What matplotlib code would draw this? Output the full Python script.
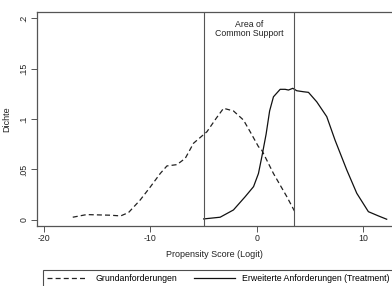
import numpy as np
import matplotlib.pyplot as plt

plt.rcParams['font.family'] = ['Liberation Sans', 'DejaVu Sans']
plt.rcParams['axes.unicode_minus'] = False

# -------------------- Data --------------------
grund_x = [-17.3, -16.0, -13.8, -12.8, -12.06, -10.96, -9.99, -9.08, -8.45, -7.51,
           -6.73, -5.95, -4.69, -3.8, -3.13, -2.2, -1.26, -0.63, 0.15, 0.47, 1.56, 2.82, 3.53]
grund_y = [0.0027, 0.0053, 0.0047, 0.0040, 0.0073, 0.0198, 0.033, 0.046, 0.0535, 0.0548,
           0.061, 0.076, 0.0874, 0.101, 0.1106, 0.108, 0.099, 0.0874, 0.0726, 0.069, 0.046, 0.023, 0.0089]

treat_x = [-5.0, -3.45, -2.2, -1.1, -0.31, 0.15, 0.47, 0.87, 1.2, 1.56, 2.19, 2.66, 2.97,
           3.38, 3.75, 4.38, 4.85, 5.63, 6.57, 7.35, 8.45, 9.39, 10.48, 11.42, 12.2]
treat_y = [0.001, 0.0027, 0.0099, 0.023, 0.033, 0.046, 0.0627, 0.085, 0.108, 0.122, 0.1294, 0.1294, 0.1287,
           0.1304, 0.128, 0.127, 0.1264, 0.117, 0.1023, 0.079, 0.0495, 0.0264, 0.0082, 0.004, 0.0007]

support_bounds = [-5.0, 3.53]
x_ticks = [-20, -10, 0, 10]
y_ticks = [0, 0.05, 0.1, 0.15, 0.2]
y_tick_labels = ['0', '.05', '.1', '.15', '.2']

# -------------------- Figure --------------------
fig = plt.figure(figsize=(3.92, 2.86), dpi=100)
W, H = 392, 286
ax = fig.add_axes([37 / W, 1 - 226 / H, (W - 37) / W, (226 - 12) / H])

ax.plot(grund_x, grund_y, color='#222222', linestyle=(0, (4, 2.5)), linewidth=0.9,
        label='Grundanforderungen')
ax.plot(treat_x, treat_y, color='#111111', linestyle='solid', linewidth=0.9,
        label='Erweiterte Anforderungen (Treatment)')
for b in support_bounds:
    ax.axvline(b, color='#555555', linewidth=0.8)

ax.text(np.mean(support_bounds), 0.198, 'Area of\nCommon Support', ha='center', va='top',
        fontsize=6.3, linespacing=1.0, color='#222222')

ax.set_xlim(-20.66, 12.7)
ax.set_ylim(-0.006, 0.206)
ax.set_xticks(x_ticks)
ax.set_yticks(y_ticks)
ax.set_yticklabels(y_tick_labels, rotation=90, va='center')
ax.tick_params(labelsize=6.3, length=4, width=0.7, color='#555555', pad=2, labelcolor='#222222')
ax.set_xlabel('Propensity Score (Logit)', fontsize=6.5, color='#222222', labelpad=5)
ax.set_ylabel('Dichte', fontsize=6.5, color='#222222', labelpad=6)
ax.spines['right'].set_visible(False)
for s in ['left', 'top', 'bottom']:
    ax.spines[s].set_color('#555555')
    ax.spines[s].set_linewidth(0.9)

# ---------- Legend below the plot ----------
handles, labels = ax.get_legend_handles_labels()
leg = fig.legend(handles, labels, loc='upper left', ncol=2,
                 bbox_to_anchor=(43 / W, 1 - 270 / H),
                 fontsize=6.3, handlelength=4.6, handletextpad=0.9, columnspacing=2.0,
                 frameon=True, fancybox=False, borderpad=0.45, borderaxespad=0)
leg.get_frame().set_edgecolor('#222222')
leg.get_frame().set_linewidth(0.8)

fig.savefig('out.png', dpi=100)
